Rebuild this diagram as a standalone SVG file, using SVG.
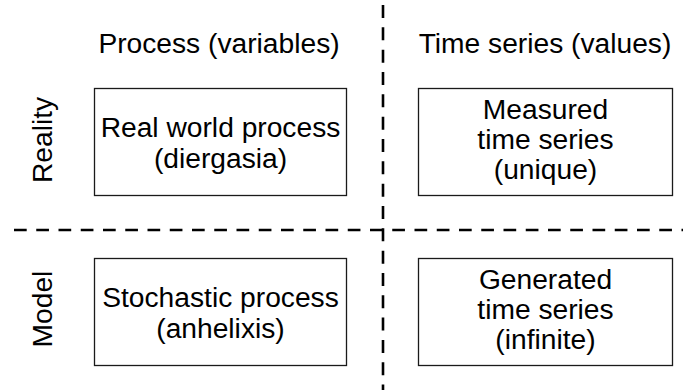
<svg xmlns="http://www.w3.org/2000/svg" width="683" height="390" viewBox="0 0 683 390">
  <style>
    text { font-family: "Liberation Sans", Arial, sans-serif; font-size: 28.2px; fill: #000; text-anchor: middle; }
    .box { fill: #fff; stroke: #1a1a1a; stroke-width: 1.3; }
    .divider { stroke: #000; stroke-width: 2.6; fill: none; }
  </style>

  <!-- quadrant dividers -->
  <g id="connectors">
    <line class="divider" x1="383" y1="5" x2="383" y2="390" stroke-dasharray="13 9.33"/>
    <line class="divider" x1="14" y1="230" x2="683" y2="230" stroke-dasharray="12.7 9.55"/>
  </g>

  <!-- column headings -->
  <g id="col-process">
    <text x="219" y="53">Process (variables)</text>
  </g>
  <g id="col-series">
    <text x="545" y="53">Time series (values)</text>
  </g>

  <!-- row headings -->
  <g id="row-reality">
    <text transform="translate(52 140) rotate(-90)">Reality</text>
  </g>
  <g id="row-model">
    <text transform="translate(52 309) rotate(-90)">Model</text>
  </g>

  <!-- quadrant boxes -->
  <g id="real-process">
    <rect class="box" x="94.5" y="88.5" width="252" height="107"/>
    <text x="220.5" y="137">Real world process</text>
    <text x="220.5" y="168">(diergasia)</text>
  </g>
  <g id="measured-series">
    <rect class="box" x="418.5" y="88.5" width="254" height="107"/>
    <text x="545.5" y="119">Measured</text>
    <text x="545.5" y="149">time series</text>
    <text x="545.5" y="179">(unique)</text>
  </g>
  <g id="stochastic-process">
    <rect class="box" x="94.5" y="258.5" width="252" height="107"/>
    <text x="220.5" y="307">Stochastic process</text>
    <text x="220.5" y="338">(anhelixis)</text>
  </g>
  <g id="generated-series">
    <rect class="box" x="418.5" y="258.5" width="254" height="107"/>
    <text x="545.5" y="289">Generated</text>
    <text x="545.5" y="319">time series</text>
    <text x="545.5" y="349">(infinite)</text>
  </g>
</svg>
